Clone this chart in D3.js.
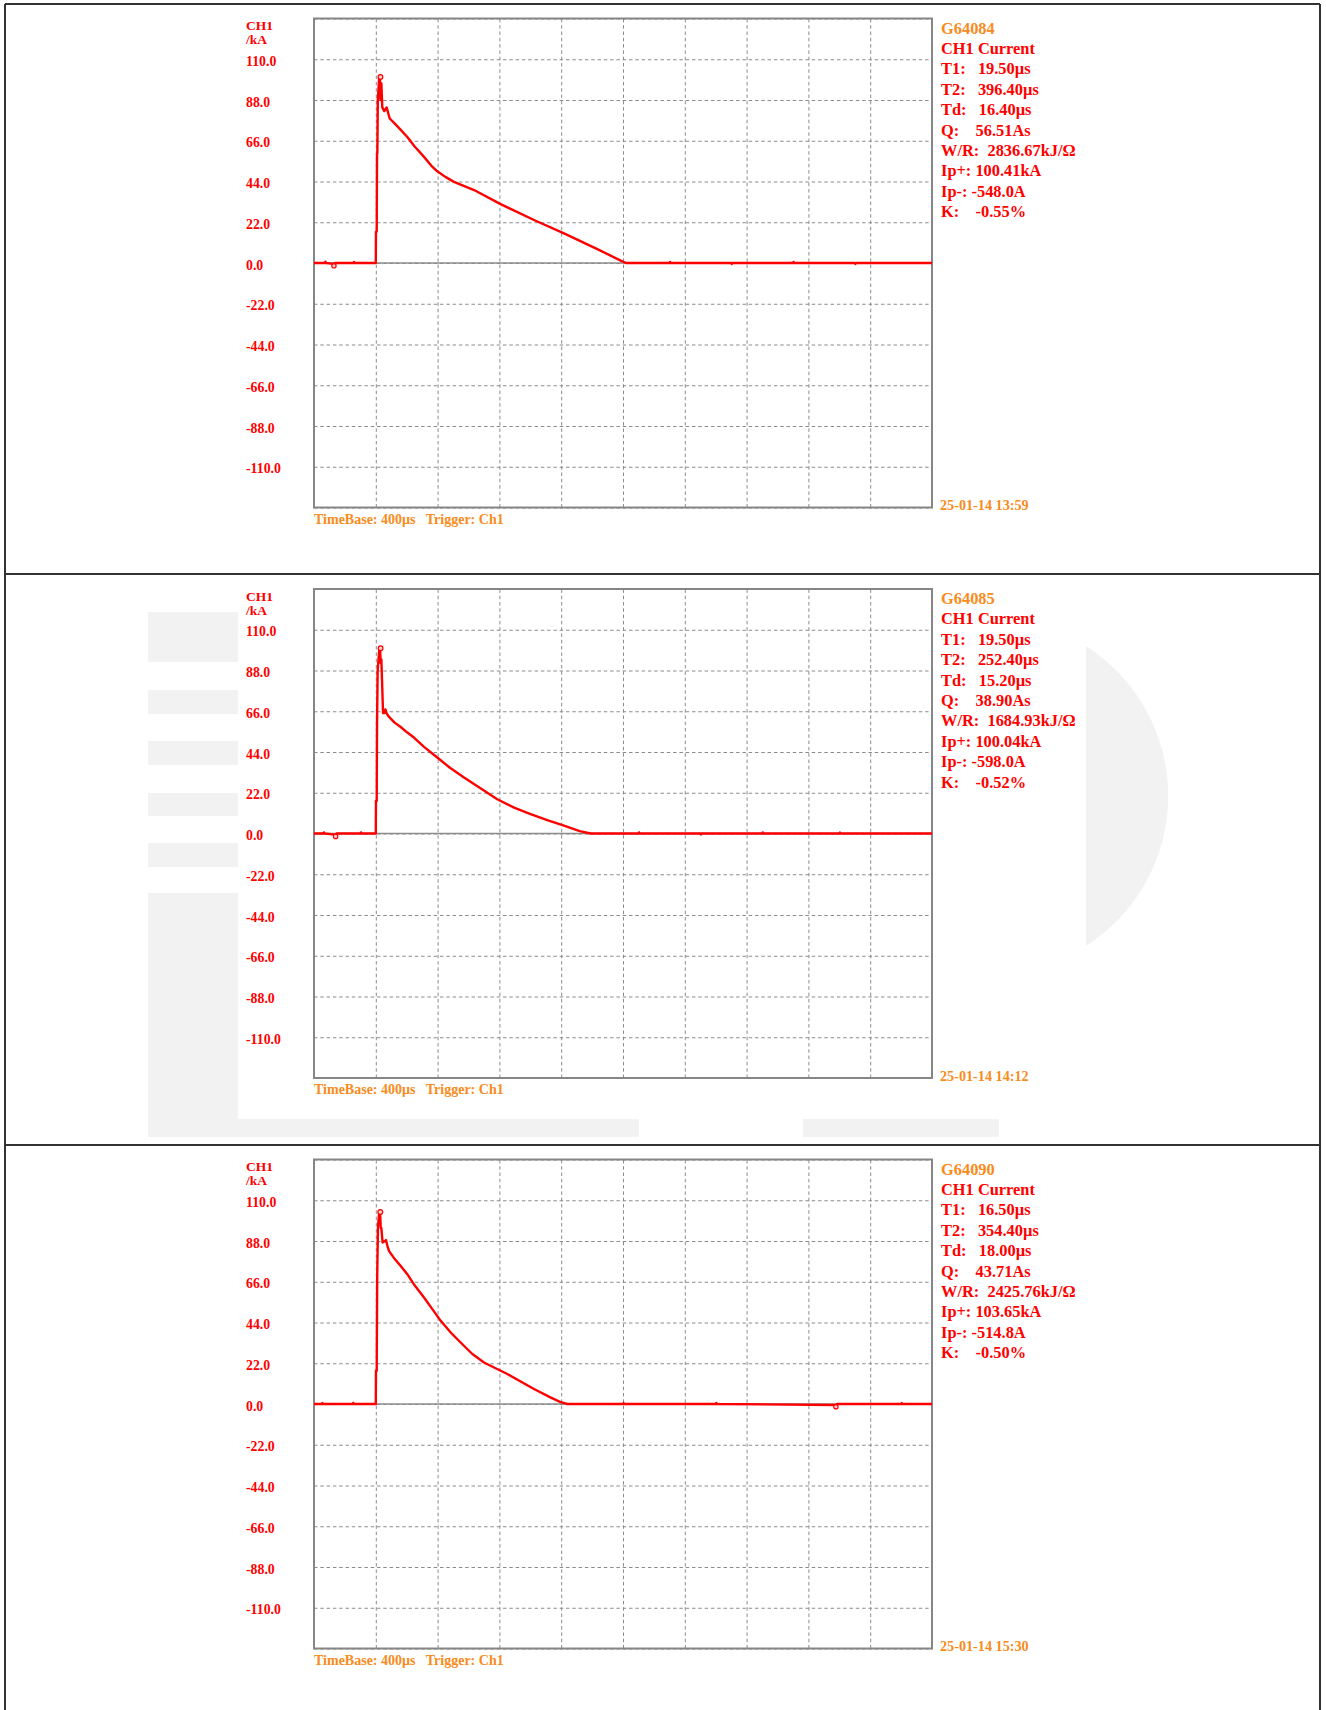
<!DOCTYPE html>
<html>
<head>
<meta charset="utf-8">
<script src="https://cdn.jsdelivr.net/npm/d3@7"></script>
<style>
  body { margin: 0; background: #fff; }
  text { font-family: "Liberation Serif", "Times New Roman", serif; font-weight: bold; white-space: pre; }
</style>
</head>
<body>
<div id="chart"></div>
<script>
// shot records, one per panel
var shotIds = ["G64084", "G64085", "G64090"];
var stamps = ["25-01-14 13:59", "25-01-14 14:12", "25-01-14 15:30"];
var t1Vals = ["19.50µs", "19.50µs", "16.50µs"];
var t2Vals = ["396.40µs", "252.40µs", "354.40µs"];
var tdVals = ["16.40µs", "15.20µs", "18.00µs"];
var qVals = ["56.51As", "38.90As", "43.71As"];
var wrVals = ["2836.67kJ/Ω", "1684.93kJ/Ω", "2425.76kJ/Ω"];
var ipPos = [100.41, 100.04, 103.65];   // kA
var ipNeg = [-548.0, -598.0, -514.8];   // A
var kVals = ["-0.55%", "-0.52%", "-0.50%"];

// marker times (µs) for Ip+ and Ip-
var peakTime = [430, 431, 429];
var negTime = [129, 140, 3378];

// axis ticks
var yLabelTicks = [110, 88, 66, 44, 22, 0, -22, -44, -66, -88, -110];
var yGridTicks = [132, 110, 88, 66, 44, 22, 0, -22, -44, -66, -88, -110, -132];
var xGridTicks = [0, 400, 800, 1200, 1600, 2000, 2400, 2800, 3200, 3600, 4000];

// waveforms [time µs, current kA]
var wave1 = [[0,0],[70,0],[74,0.7],[78,0],[129,-0.5],[134,0],[255,0],[259,0.6],[263,0],[400,0],[401,16.9],[406,17],[408,59],[410,59],[413,88],
  [422,100.4],[427,99],[430,88],[436,97],[442,84],[455,82],[470,84],[490,78],[520,75.5],[560,72],[604,68],[650,63],
  [712,57.3],[760,52.5],[798,49.5],[850,46.5],[906,43.8],[1036,39.4],[1208,31.8],[1424,23.2],[1618,16],[1834,7.5],
  [1985,1.3],[2020,0],[2300,0],[2304,0.6],[2308,0],[2700,0],[2704,-0.5],[2708,0],[3100,0],[3104,0.6],[3108,0],
  [3500,0],[3504,-0.5],[3508,0],[4000,0]];

var wave2 = [[0,0],[60,0],[64,0.6],[68,0],[140,-0.6],[146,0],[300,0],[304,0.6],[308,0],[400,0],[401,17.6],[406,17.6],[408,59],[412,88],
  [423,100],[428,99],[432,92],[436,94],[447,65],[455,65],[462,67],[470,65],[480,63.5],[520,60],[561,57.5],[604,54.5],
  [647,51.8],[712,46.8],[798,41],[880,35.5],[971,30.2],[1080,24.3],[1186,18.5],[1295,14],[1402,10.4],[1510,7.2],
  [1618,4.2],[1720,1.3],[1790,0],[2100,0],[2104,0.6],[2108,0],[2500,0],[2504,-0.5],[2508,0],[2900,0],[2904,0.6],[2908,0],
  [3400,0],[3404,0.5],[3408,0],[4000,0]];

var wave3 = [[0,0],[50,0],[54,0.5],[58,0],[250,0],[254,0.6],[258,0],[400,0],[401,18],[406,18],[409,68.3],[414,95.2],[422,103.6],
  [428,103],[432,95],[436,95],[444,87.2],[455,87.7],[466,88.5],[475,85.4],[485,82.7],[516,79],[560,74.6],[604,70.1],
  [650,64.2],[712,57.5],[766,51.2],[820,44.9],[885,38.6],[949,33.2],[1025,27],[1100,22.4],[1251,16.2],[1424,8.1],
  [1530,3.6],[1596,1],[1640,0],[2000,0],[2004,0.5],[2008,0],[2600,0],[2604,0.6],[2608,0],[3378,-0.5],[3384,0],
  [3800,0],[3804,0.5],[3808,0],[4000,0]];

var waves = [wave1, wave2, wave3];

// layout
var svgWidth = 1326;
var svgHeight = 1710;
var panelStep = 570.5;
var plot = { left: 314, top: 18.5, width: 618, height: 489 };

var red = "#ff0000";
var orange = "#f98b1c";
var gridColor = "#8c8c8c";

var svg = d3.select("#chart").append("svg")
  .attr("width", svgWidth)
  .attr("height", svgHeight);

// outer frame and panel dividers
var frame = svg.append("g").attr("stroke", "#333").attr("stroke-width", 2);
frame.append("line").attr("x1", 5).attr("x2", 1320).attr("y1", 4).attr("y2", 4);
frame.append("line").attr("x1", 5).attr("x2", 5).attr("y1", 4).attr("y2", svgHeight);
frame.append("line").attr("x1", 1320).attr("x2", 1320).attr("y1", 4).attr("y2", svgHeight);
frame.append("line").attr("x1", 5).attr("x2", 1320).attr("y1", 574).attr("y2", 574);
frame.append("line").attr("x1", 5).attr("x2", 1320).attr("y1", 1145).attr("y2", 1145);

// faint watermark behind the middle panel
var wm = svg.append("g").attr("fill", "#f2f2f2");
[[612, 662], [690, 714], [741, 765], [793, 816], [843, 867]].forEach(function(r) {
  wm.append("rect").attr("x", 148).attr("y", r[0]).attr("width", 90).attr("height", r[1] - r[0]);
});
wm.append("rect").attr("x", 148).attr("y", 893).attr("width", 90).attr("height", 244);
wm.append("rect").attr("x", 238).attr("y", 1119).attr("width", 401).attr("height", 18);
wm.append("rect").attr("x", 803).attr("y", 1119).attr("width", 196).attr("height", 18);
wm.append("path").attr("d", "M1086,646 A178,178 0 0 1 1086,946 Z");

// scales
var xScale = d3.scaleLinear().domain([0, 4000]).range([0, plot.width]);
var yScale = d3.scaleLinear().domain([-132, 132]).range([plot.height, 0]);

var line = d3.line()
  .x(d => xScale(d[0]))
  .y(d => yScale(d[1]));

shotIds.forEach(function(id, i) {
  var panel = svg.append("g")
    .attr("transform", `translate(0, ${panelStep * i})`);

  var chartGroup = panel.append("g")
    .attr("transform", `translate(${plot.left}, ${plot.top})`);

  // horizontal grid
  var hGrid = chartGroup.append("g")
    .call(d3.axisLeft(yScale).tickValues(yGridTicks).tickSize(-plot.width).tickFormat(""));
  hGrid.select(".domain").remove();
  hGrid.selectAll("line")
    .attr("stroke", gridColor)
    .attr("stroke-dasharray", "3.5,2.8");

  // vertical grid
  var vGrid = chartGroup.append("g")
    .attr("transform", `translate(0, ${plot.height})`)
    .call(d3.axisBottom(xScale).tickValues(xGridTicks).tickSize(-plot.height).tickFormat(""));
  vGrid.select(".domain").remove();
  vGrid.selectAll("line")
    .attr("stroke", gridColor)
    .attr("stroke-dasharray", "3.5,2.8");

  // zero line
  chartGroup.append("line")
    .attr("x1", 0).attr("x2", plot.width)
    .attr("y1", yScale(0)).attr("y2", yScale(0))
    .attr("stroke", "#8c8c8c")
    .attr("stroke-width", 1.6);

  // plot frame
  chartGroup.append("rect")
    .attr("width", plot.width)
    .attr("height", plot.height)
    .attr("fill", "none")
    .attr("stroke", "#868686")
    .attr("stroke-width", 2);

  // y tick labels
  var leftAxis = chartGroup.append("g")
    .call(d3.axisLeft(yScale).tickValues(yLabelTicks).tickSize(0).tickFormat(d => d.toFixed(1)));
  leftAxis.select(".domain").remove();
  leftAxis.selectAll("text")
    .attr("x", 246 - plot.left)
    .attr("dy", "0.45em")
    .attr("text-anchor", "start")
    .attr("fill", red)
    .style("font-size", "13.8px");

  chartGroup.append("text")
    .attr("x", 246 - plot.left).attr("y", 11.5)
    .attr("fill", red).style("font-size", "13.5px")
    .text("CH1");
  chartGroup.append("text")
    .attr("x", 246 - plot.left).attr("y", 25.8)
    .attr("fill", red).style("font-size", "13.5px")
    .text("/kA");

  // waveform
  chartGroup.append("path")
    .datum(waves[i])
    .attr("d", line)
    .attr("fill", "none")
    .attr("stroke", red)
    .attr("stroke-width", 2.4)
    .attr("stroke-linejoin", "round");

  // Ip+ and Ip- markers
  chartGroup.append("circle")
    .attr("cx", xScale(peakTime[i]))
    .attr("cy", yScale(ipPos[i]))
    .attr("r", 2.4)
    .attr("fill", "#ffd0d0")
    .attr("stroke", red)
    .attr("stroke-width", 1.2);
  chartGroup.append("circle")
    .attr("cx", xScale(negTime[i]))
    .attr("cy", yScale(ipNeg[i] / 1000) + 1.8)
    .attr("r", 2.2)
    .attr("fill", "#ffd0d0")
    .attr("stroke", red)
    .attr("stroke-width", 1.2);

  // footer texts
  chartGroup.append("text")
    .attr("x", 0).attr("y", plot.height + 16)
    .attr("fill", orange).style("font-size", "14px")
    .text("TimeBase: 400µs   Trigger: Ch1");
  chartGroup.append("text")
    .attr("x", 940 - plot.left).attr("y", plot.height + 2.5)
    .attr("fill", orange).style("font-size", "14.2px")
    .text(stamps[i]);

  // info block
  var info = [
    { t: id, c: orange },
    { t: "CH1 Current", c: red },
    { t: "T1:   " + t1Vals[i], c: red },
    { t: "T2:   " + t2Vals[i], c: red },
    { t: "Td:   " + tdVals[i], c: red },
    { t: "Q:    " + qVals[i], c: red },
    { t: "W/R:  " + wrVals[i], c: red },
    { t: "Ip+: " + ipPos[i].toFixed(2) + "kA", c: red },
    { t: "Ip-: " + ipNeg[i].toFixed(1) + "A", c: red },
    { t: "K:    " + kVals[i], c: red }
  ];
  chartGroup.selectAll(".info")
    .data(info)
    .enter()
    .append("text")
    .attr("class", "info")
    .attr("x", 941 - plot.left)
    .attr("y", (d, k) => 15 + k * 20.4)
    .attr("fill", d => d.c)
    .style("font-size", "16.4px")
    .text(d => d.t);
});
</script>
</body>
</html>
